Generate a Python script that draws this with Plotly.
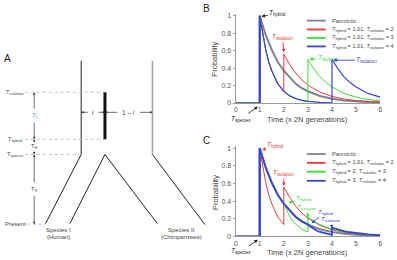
import plotly.graph_objects as go

W, H = 397, 260
FONT = "Liberation Sans, Arial, sans-serif"

# ---------------- data ----------------
x_ticks = [0, 1, 2, 3, 4, 5, 6]
y_ticks = [0, 0.2, 0.4, 0.6, 0.8, 1]
y_tick_text = ["0", "0.2", "0.4", "0.6", "0.8", "1"]

pan_t = [0, 1, 1, 1.25, 1.5, 1.75, 2, 2.25, 2.5, 2.75, 3, 3.5, 4, 4.5, 5, 5.5, 6]
pan_p = [0, 0, 1, 0.78, 0.61, 0.47, 0.37, 0.29, 0.22, 0.17, 0.135, 0.08, 0.05, 0.03, 0.018, 0.011, 0.007]

# Panel B
b_red_t = [0, 1, 1, 1.125, 1.25, 1.375, 1.5, 1.75, 2, 2, 2.25, 2.5, 2.75, 3, 3.5, 4, 4.5, 5, 5.5, 6]
b_red_p = [0, 0, 1, 0.78, 0.61, 0.47, 0.37, 0.22, 0.135, 0.56, 0.44, 0.34, 0.265, 0.205, 0.125, 0.076, 0.046, 0.028, 0.017, 0.01]
b_green_t = [0, 1, 1, 1.125, 1.25, 1.375, 1.5, 1.75, 2, 2.25, 2.5, 2.75, 3, 3, 3.25, 3.5, 3.75, 4, 4.5, 5, 5.5, 6]
b_green_p = [0, 0, 1, 0.78, 0.61, 0.47, 0.37, 0.22, 0.135, 0.082, 0.05, 0.03, 0.018, 0.5, 0.39, 0.30, 0.236, 0.184, 0.11, 0.068, 0.041, 0.025]
b_blue_t = [0, 1, 1, 1.125, 1.25, 1.375, 1.5, 1.75, 2, 2.25, 2.5, 2.75, 3, 3.5, 4, 4, 4.25, 4.5, 4.75, 5, 5.5, 6]
b_blue_p = [0, 0, 1, 0.78, 0.61, 0.47, 0.37, 0.22, 0.135, 0.082, 0.05, 0.03, 0.018, 0.007, 0.0025, 0.5, 0.39, 0.30, 0.236, 0.184, 0.11, 0.068]

# Panel C
c_red_t = b_red_t
c_red_p = b_red_p
c_green_t = [0, 1, 1, 1.25, 1.5, 1.75, 2, 2.125, 2.25, 2.375, 2.5, 2.75, 3, 3, 3.25, 3.5, 3.75, 4, 4.5, 5, 5.5, 6]
c_green_p = [0, 0, 1, 0.78, 0.61, 0.47, 0.37, 0.29, 0.225, 0.175, 0.135, 0.082, 0.05, 0.22, 0.17, 0.135, 0.105, 0.082, 0.05, 0.03, 0.018, 0.011]
c_blue_t = [0, 1, 1, 1.25, 1.5, 1.75, 2, 2.25, 2.5, 2.75, 3, 3.125, 3.25, 3.375, 3.5, 3.75, 4, 4, 4.25, 4.5, 4.75, 5, 5.5, 6]
c_blue_p = [0, 0, 1, 0.78, 0.61, 0.47, 0.37, 0.29, 0.22, 0.17, 0.135, 0.105, 0.082, 0.064, 0.05, 0.03, 0.018, 0.1, 0.078, 0.061, 0.047, 0.037, 0.022, 0.013]

b_legend = ["Panmictic",
            "<i>T</i><sub>hybrid</sub> = 1.01, <i>T</i><sub>isolation</sub> = 2",
            "<i>T</i><sub>hybrid</sub> = 1.01, <i>T</i><sub>isolation</sub> = 3",
            "<i>T</i><sub>hybrid</sub> = 1.01, <i>T</i><sub>isolation</sub> = 4"]
c_legend = ["Panmictic",
            "<i>T</i><sub>hybrid</sub> = 1.01, <i>T</i><sub>isolation</sub> = 2",
            "<i>T</i><sub>hybrid</sub> = 2, <i>T</i><sub>isolation</sub> = 3",
            "<i>T</i><sub>hybrid</sub> = 3, <i>T</i><sub>isolation</sub> = 4"]

GRAY = "#7d8291"
RED = "#e8393a"
GREEN = "#3bdc3b"
BLUE = "#3747cc"
colors = [GRAY, RED, GREEN, BLUE]


def P(px, py):
    return px / W, 1 - py / H


fig = go.Figure()

def add(t, p, color, width, xa, ya):
    fig.add_trace(go.Scatter(x=t, y=p, mode="lines", line=dict(color=color, width=width),
                             xaxis=xa, yaxis=ya, showlegend=False, hoverinfo="skip"))

add(pan_t, pan_p, GRAY, 2, "x", "y")
add(b_red_t, b_red_p, RED, 1, "x", "y")
add(b_green_t, b_green_p, GREEN, 1, "x", "y")
add(b_blue_t, b_blue_p, BLUE, 1.2, "x", "y")
add(pan_t, pan_p, GRAY, 2, "x2", "y2")
add(c_red_t, c_red_p, RED, 1, "x2", "y2")
add(c_green_t, c_green_p, GREEN, 1, "x2", "y2")
add(c_blue_t, c_blue_p, BLUE, 1.8, "x2", "y2")

# thick vertical at t=1 (from data)
for xa, ya in [("x", "y"), ("x2", "y2")]:
    add([pan_t[1], pan_t[2]], [pan_p[1], pan_p[2]], BLUE, 2, xa, ya)

axis_common = dict(showline=True, linecolor="#9a9a9a", linewidth=1, showgrid=False, zeroline=False,
                   tickfont=dict(size=7, color="#555", family=FONT))
xaxis_style = dict(ticks="", **axis_common)
yaxis_style = dict(ticks="outside", ticklen=2, tickcolor="#9a9a9a", **axis_common)

xdom = [236 / W, 382 / W]
fig.update_layout(
    xaxis=dict(domain=xdom, range=[0, 6], tickvals=x_ticks, anchor="y", **xaxis_style),
    yaxis=dict(domain=[1 - 103 / H, 1 - (103 - 89 * 1.02) / H], range=[0, 1.02],
               tickvals=y_ticks, ticktext=y_tick_text, anchor="x", **yaxis_style),
    xaxis2=dict(domain=xdom, range=[0, 6], tickvals=x_ticks, anchor="y2", **xaxis_style),
    yaxis2=dict(domain=[1 - 239 / H, 1 - (239 - 90 * 1.02) / H], range=[0, 1.02],
                tickvals=y_ticks, ticktext=y_tick_text, anchor="x2", **yaxis_style),
)

shapes = []
ann = []

def text(px, py, s, size=6.5, color="#444", xanchor="center", **kw):
    x, y = P(px, py)
    ann.append(dict(x=x, y=y, xref="paper", yref="paper", text=s, showarrow=False,
                    xanchor=xanchor, yanchor="middle", font=dict(size=size, color=color, family=FONT), **kw))

def line(x0, y0, x1, y1, color="#222", width=1, dash=None):
    a, b = P(x0, y0)
    c, d = P(x1, y1)
    shapes.append(dict(type="line", xref="paper", yref="paper", x0=a, y0=b, x1=c, y1=d,
                       line=dict(color=color, width=width, dash=dash)))

def arrow(hx, hy, tx, ty, color="#333", width=0.7, size=0.7, s="", fsize=6.5):
    x, y = P(hx, hy)
    ann.append(dict(x=x, y=y, xref="paper", yref="paper", text=s, showarrow=True,
                    ax=tx - hx, ay=ty - hy, axref="pixel", ayref="pixel",
                    arrowhead=2, arrowsize=size, arrowwidth=width, arrowcolor=color,
                    font=dict(size=fsize, color=color, family=FONT)))

# ---------------- Panel A ----------------
text(6, 58, "A", size=10, color="#222")
Yiso, Yhyb, Ysp, Ypr = 92, 140, 155.5, 226.5
line(80, 60, 80, Ysp)
line(80, Ysp, 44, 226)
line(104, Ysp, 68.5, 226)
line(104, Ysp, 157, 226)
line(152, 60, 152, Ysp, color="#a8a8a8", width=1.6)
line(152, Ysp, 205, 227)
line(104, Yiso, 104, Yhyb, color="#111", width=3)
line(23, Yiso, 104, Yiso, color="#999", width=0.6, dash="dot")
line(23, Yhyb, 104, Yhyb, color="#999", width=0.6, dash="dot")
line(23, Ysp, 80, Ysp, color="#999", width=0.6, dash="dot")
line(25, Ypr, 44, Ypr, color="#999", width=0.6, dash="dot")

text(13, Yiso, "T<sub>isolation</sub>", size=5.5)
text(13, Yhyb, "T<sub>hybrid</sub>", size=5.5)
text(13, Ysp, "T<sub>species</sub>", size=5.5)
text(14, Ypr, "Present", size=6)

AX = 32.5
arrow(AX, Yiso, AX, 110); arrow(AX, Yhyb, AX, 122)
text(AX, 116, "<i>T</i><sub>I</sub>", size=6.5, color="#59a9c9")
arrow(AX, Yhyb, AX, 144); arrow(AX, Ysp, AX, 151)
text(AX, 147.5, "T<sub>H</sub>", size=5.5)
arrow(AX, Ysp, AX, 185); arrow(AX, Ypr, AX, 197)
text(AX, 191, "T<sub>S</sub>", size=5.5)

YA = 112.5
arrow(80, YA, 88, YA); arrow(104, YA, 96, YA)
text(92, YA, "<i>i</i>", size=6.5)
arrow(104, YA, 118, YA); arrow(152, YA, 138, YA)
text(128, YA, "1 – <i>i</i>", size=6.5)

text(57, 232.5, "Species I", size=6)
text(57, 240, "(Human)", size=6)
text(181, 232.5, "Species II", size=6)
text(181, 240, "(Chimpanzees)", size=6)

# ---------------- Panel labels & axis titles ----------------
text(207, 7, "B", size=10, color="#222")
text(207, 141, "C", size=10, color="#222")
text(215, 58, "Probability", size=7.5, textangle=-90)
text(215, 194, "Probability", size=7.5, textangle=-90)
text(308.5, 120, "Time (x 2N generations)", size=7.5)
text(308.5, 255, "Time (x 2N generations)", size=7.5)

# ---------------- legends ----------------
def legend(rows_py, labels):
    for py, lab, col in zip(rows_py, labels, colors):
        line(308, py, 327, py, color=col, width=1.8)
        text(331, py, lab, size=5.6, color="#444", xanchor="left")

legend([19, 28, 36.7, 45.3], b_legend)
legend([155, 164, 173, 182.3], c_legend)

# ---------------- data-linked annotations ----------------
def dann(xa, ya, hx, hy, tx, ty, s, color, fsize=6.5):
    ann.append(dict(x=hx, y=hy, xref=xa, yref=ya, ax=tx, ay=ty, axref=xa, ayref=ya,
                    text=s, showarrow=True, arrowhead=2, arrowsize=0.8, arrowwidth=0.9,
                    arrowcolor=color, font=dict(size=fsize, color=color, family=FONT)))

Th = "<i>T</i><sub>hybrid</sub>"
Ti = "<i>T</i><sub>isolation</sub>"
Ts = "<i>T</i><sub>species</sub>"
dann("x", "y", 1.07, 0.99, 1.75, 1.03, Th, "#222")
dann("x", "y", 2.0, 0.58, 1.95, 0.76, Ti, RED)
dann("x", "y", 3.07, 0.5, 3.85, 0.52, Ti, GREEN)
dann("x", "y", 4.05, 0.49, 5.45, 0.49, Ti, BLUE)

dann("x2", "y2", 1.1, 0.98, 1.65, 1.03, Th, RED)
dann("x2", "y2", 2.0, 0.57, 2.0, 0.72, Ti, RED)
dann("x2", "y2", 2.2, 0.38, 2.85, 0.43, Th, GREEN, 6)
dann("x2", "y2", 3.0, 0.21, 2.98, 0.33, Ti, GREEN, 6)
dann("x2", "y2", 3.15, 0.15, 3.75, 0.275, Th, BLUE, 6)
dann("x2", "y2", 4.0, 0.09, 3.95, 0.19, Ti, BLUE, 6)

# T_species pointers below the time axes (paper coordinates: below the axis range)
arrow(258.5, 106.5, 241.5, 119, color="#222", width=0.9, size=0.8, s=Ts)
arrow(258.5, 242.5, 241.5, 254, color="#222", width=0.9, size=0.8, s=Ts)

fig.update_layout(width=W, height=H, margin=dict(l=0, r=0, t=0, b=0),
                  paper_bgcolor="white", plot_bgcolor="white",
                  shapes=shapes, annotations=ann, showlegend=False,
                  font=dict(family=FONT))
fig.write_html("out.html", config={"displayModeBar": False},
               post_script="document.body.style.margin='0';document.body.style.padding='0';document.body.style.overflow='hidden';")
